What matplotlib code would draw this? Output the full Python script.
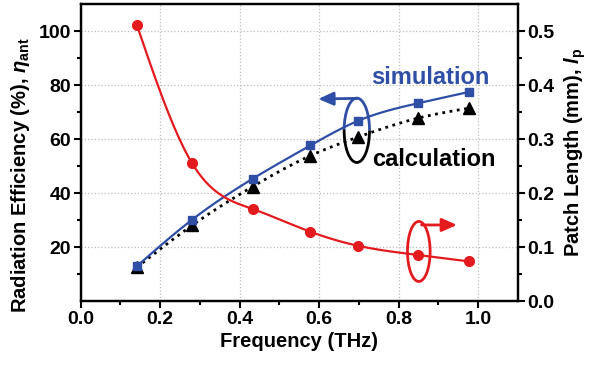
import numpy as np
import matplotlib
matplotlib.use("Agg")
from matplotlib import pyplot as plt
from matplotlib.patches import Arc, Ellipse

plt.rcParams["font.family"] = ["Liberation Sans", "DejaVu Sans"]
plt.rcParams["font.weight"] = "bold"
plt.rcParams["mathtext.fontset"] = "custom"
plt.rcParams["mathtext.rm"] = "Liberation Sans:bold"
plt.rcParams["mathtext.it"] = "Liberation Sans:italic"

# frequency of each design point (THz)
freq = [0.141, 0.280, 0.433, 0.578, 0.698, 0.849, 0.978]
# radiation efficiency (%)
eff_sim = [13.0, 30.2, 45.4, 57.7, 66.8, 73.3, 77.5]
eff_calc = [12.6, 28.1, 42.5, 53.9, 60.8, 67.8, 71.5]
# patch length (mm)
patch_len = [0.512, 0.256, 0.171, 0.129, 0.103, 0.086, 0.074]

x_ticks = [0.0, 0.2, 0.4, 0.6, 0.8, 1.0]
y_ticks = [20, 40, 60, 80, 100]
y2_ticks = [0.0, 0.1, 0.2, 0.3, 0.4, 0.5]

BLUE = "#2f4fa6"
RED = "#e31b1f"


def spline(x, y, n=200):
    # natural cubic spline through the points, for a smooth line
    x = np.asarray(x, float)
    y = np.asarray(y, float)
    k = len(x)
    h = np.diff(x)
    A = np.zeros((k, k))
    b = np.zeros(k)
    A[0, 0] = A[-1, -1] = 1
    for i in range(1, k - 1):
        A[i, i - 1] = h[i - 1]
        A[i, i] = 2 * (h[i - 1] + h[i])
        A[i, i + 1] = h[i]
        b[i] = 3 * ((y[i + 1] - y[i]) / h[i] - (y[i] - y[i - 1]) / h[i - 1])
    c = np.linalg.solve(A, b)
    xs = np.linspace(x[0], x[-1], n)
    idx = np.clip(np.searchsorted(x, xs) - 1, 0, k - 2)
    dx = xs - x[idx]
    bb = (y[idx + 1] - y[idx]) / h[idx] - h[idx] * (2 * c[idx] + c[idx + 1]) / 3
    d = (c[idx + 1] - c[idx]) / (3 * h[idx])
    return xs, y[idx] + bb * dx + c[idx] * dx ** 2 + d * dx ** 3


fig = plt.figure(figsize=(5.89, 3.65), dpi=100)
ax = fig.add_axes([0.137, 0.174, 0.742, 0.815])
ax2 = ax.twinx()

# efficiency curves (left axis)
xs, ys = spline(freq, eff_calc)
ax.plot(xs, ys, ":", color="black", lw=2, zorder=3)
ax.plot(freq, eff_calc, "^", color="black", ms=8.5, ls="none", zorder=4)
xs, ys = spline(freq, eff_sim)
ax.plot(xs, ys, "-", color=BLUE, lw=1.6, zorder=3)
ax.plot(freq, eff_sim, "s", color=BLUE, ms=6, ls="none", zorder=4)

# patch length (right axis)
xs, ys = spline(freq, patch_len)
ax2.plot(xs, ys, "-", color=RED, lw=1.6)
ax2.plot(freq, patch_len, "o", color=RED, ms=7, ls="none")

ax.set_xlim(0, 1.1)
ax.set_ylim(0, 110)
ax2.set_ylim(0, 0.55)
ax.set_xticks(x_ticks)
ax.set_xticks(np.arange(0.1, 1.1, 0.2), minor=True)
ax.set_yticks(y_ticks)
ax.set_yticks(np.arange(10, 110, 20), minor=True)
ax2.set_yticks(y2_ticks)
ax2.set_yticks(np.arange(0.05, 0.55, 0.1), minor=True)
ax.set_xticklabels([f"{v:.1f}" for v in x_ticks])
ax2.set_yticklabels([f"{v:.1f}" for v in y2_ticks])

ax.grid(True, which="major", ls=":", color="#bdbdbd", lw=0.9)
ax.set_axisbelow(True)

for a in (ax, ax2):
    for s in a.spines.values():
        s.set_linewidth(1.6)
    a.tick_params(which="major", direction="out", length=5, width=1.5,
                  labelsize=14, pad=2)
    a.tick_params(which="minor", direction="out", length=3, width=1.5)

ax.set_xlabel("Frequency (THz)", fontsize=14.5, fontweight="bold", labelpad=3)
ax.set_ylabel(r"Radiation Efficiency (%), $\mathit{\eta}_{\mathrm{ant}}$",
              fontsize=14.5, fontweight="bold")
ax.yaxis.set_label_coords(-0.112, 0.425)
ax2.set_ylabel(r"Patch Length (mm), $\mathit{l}_{\mathrm{p}}$",
               fontsize=14.5, fontweight="bold")
ax2.yaxis.set_label_coords(1.103, 0.5)

# series labels
ax.text(0.73, 83, "simulation", color=BLUE, fontsize=17, fontweight="bold",
        va="center", ha="left")
ax.text(0.733, 52.4, "calculation", color="black", fontsize=17,
        fontweight="bold", va="center", ha="left")

# ellipse pointing at the efficiency curves, half blue, half black
ecx, ecy, ew, eh = 0.695, 63.3, 0.064, 23.8
ax.add_patch(Arc((ecx, ecy), ew, eh, theta1=-25, theta2=95,
                 color=BLUE, lw=2, zorder=5))
ax.add_patch(Arc((ecx, ecy), ew, eh, theta1=95, theta2=335,
                 color="black", lw=2, zorder=5))
ax.annotate("", xy=(0.598, 74.9), xytext=(ecx, 75.1),
            arrowprops=dict(arrowstyle="-|>,head_length=0.9,head_width=0.4",
                            color=BLUE, lw=2, shrinkA=0, shrinkB=0),
            zorder=5)

# ellipse pointing at the patch length curve
rcx, rcy, rw, rh = 0.851, 18.5, 0.057, 22.2
ax.add_patch(Ellipse((rcx, rcy), rw, rh, fill=False, edgecolor=RED, lw=2,
                     zorder=5))
ax.annotate("", xy=(0.947, 28.3), xytext=(0.858, 28.3),
            arrowprops=dict(arrowstyle="-|>,head_length=0.9,head_width=0.4",
                            color=RED, lw=2, shrinkA=0, shrinkB=0),
            zorder=5)

fig.savefig("out.png", dpi=100)
